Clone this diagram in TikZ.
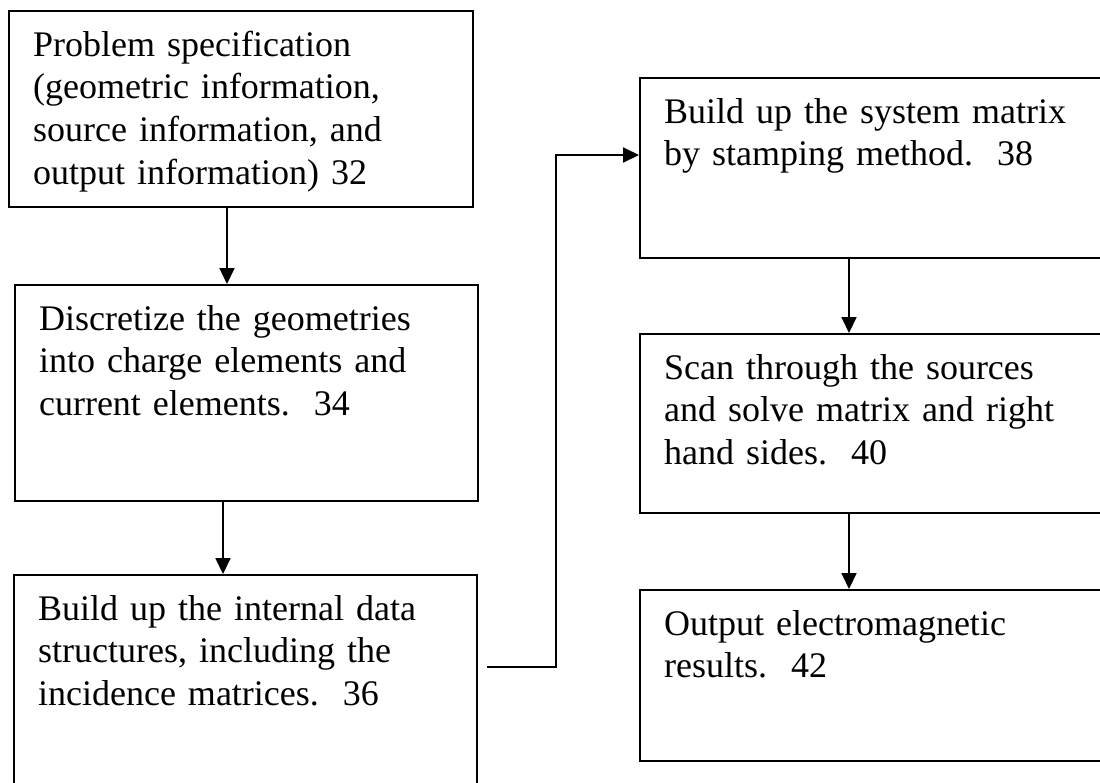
\documentclass[tikz,border=0pt]{standalone}
\usepackage{fontspec}
\setmainfont{Liberation Serif}
\usepackage{tikz}
\usetikzlibrary{arrows.meta}
\tikzset{c-box/.style 2 args={rectangle, draw=black, line width=0.7pt, anchor=north west, align=left, inner xsep=8pt, inner ysep=0pt, text height=15pt, text width=#1, text depth=#2, font=\fontsize{12}{14.3}\selectfont},
arrow/.style={line width=0.5pt,-{Triangle[length=5.3pt,width=5pt]}}}

\begin{document}
\begin{tikzpicture}[x=0.33333pt, y=-0.33333pt]
\clip (0,0) rectangle (1100,782);
\node (n0) [c-box={138.67pt}{50.33pt}] at (8,10) {
Problem specification\\
(geometric information,\\
source information, and\\
output information) 32
};
\node (n1) [c-box={138.33pt}{57pt}] at (14,284) {
Discretize the geometries\\
into charge elements and\\
current elements.~~34
};
\node (n2) [c-box={138.33pt}{65pt}] at (13,574) {
Build up the internal data\\
structures, including the\\
incidence matrices.~~36
};
\node (n3) [c-box={140.67pt}{45pt}] at (639,77) {
Build up the system matrix\\
by stamping method.~~38
};
\node (n4) [c-box={140.67pt}{44.67pt}] at (639,333) {
Scan through the sources\\
and solve matrix and right\\
hand sides.~~40
};
\node (n5) [c-box={140.67pt}{42pt}] at (639,589) {
Output electromagnetic\\
results.~~42
};
\draw [arrow] ([shift={(219,0)}]n0.south west) -- ([shift={(213,0)}]n1.north west);
\draw [arrow] ([shift={(209,0)}]n1.south west) -- ([shift={(210,0)}]n2.north west);
\draw [arrow] ([shift={(9,93)}]n2.north east) -| ([shift={(-83,78)}]n3.north west) -- ([shift={(0,78)}]n3.north west);
\draw [arrow] ([shift={(210,0)}]n3.south west) -- ([shift={(210,0)}]n4.north west);
\draw [arrow] ([shift={(210,0)}]n4.south west) -- ([shift={(210,0)}]n5.north west);
\end{tikzpicture}
\end{document}
